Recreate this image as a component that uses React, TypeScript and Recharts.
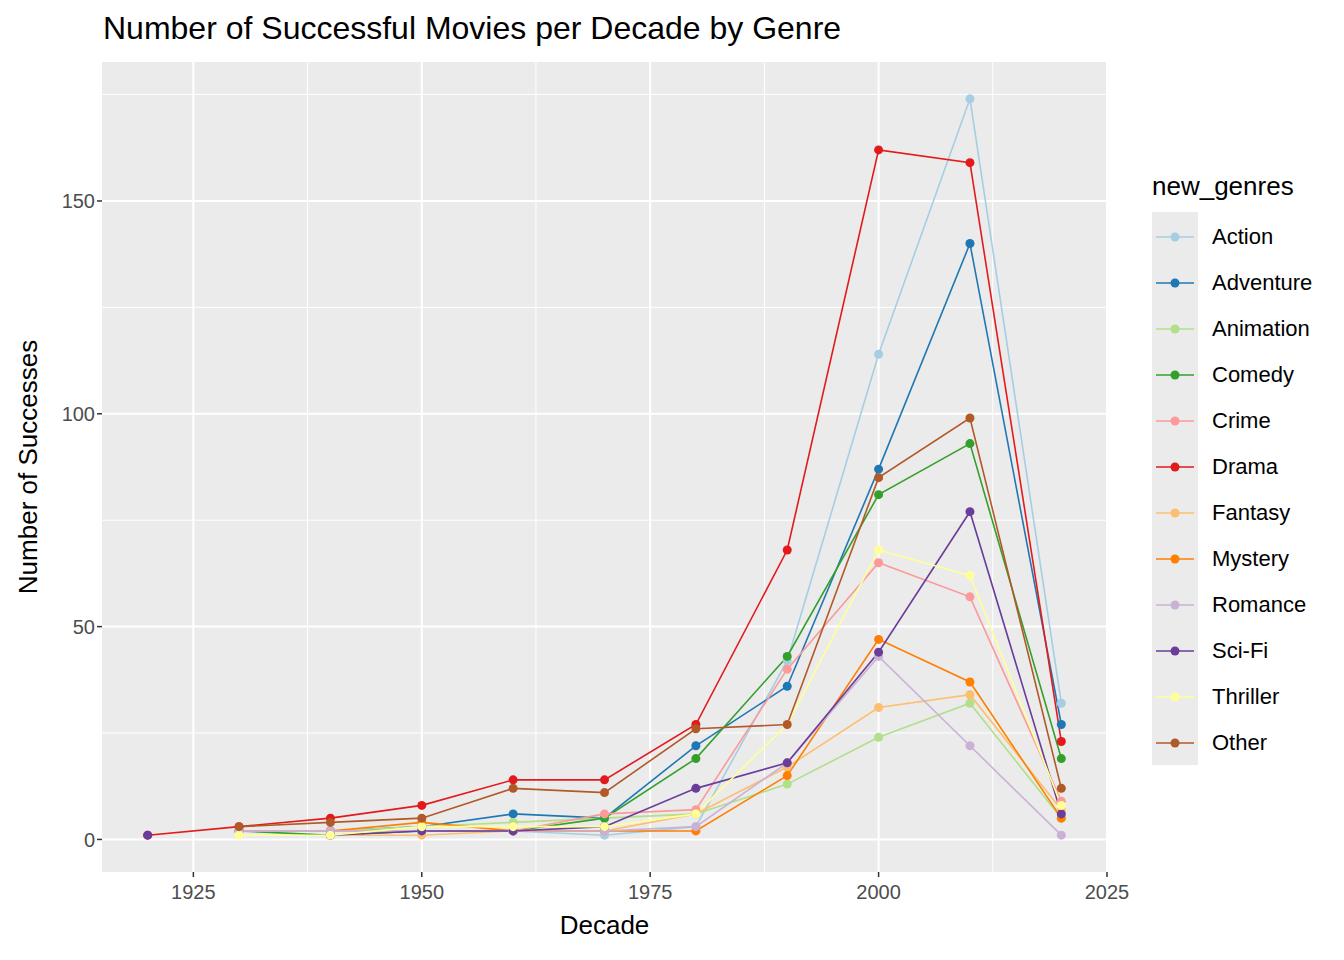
import { LineChart, Line, XAxis, YAxis, ReferenceLine, Label } from "recharts";

const decades = [1920, 1930, 1940, 1950, 1960, 1970, 1980, 1990, 2000, 2010, 2020];
const genres = ["Action", "Adventure", "Animation", "Comedy", "Crime", "Drama", "Fantasy", "Mystery", "Romance", "Sci-Fi", "Thriller", "Other"];
const colors = ["#A6CEE3", "#1F78B4", "#B2DF8A", "#33A02C", "#FB9A99", "#E31A1C", "#FDBF6F", "#FF7F00", "#CAB2D6", "#6A3D9A", "#FFFF99", "#B15928"];
const N = null;
const action = [N, 2, 2, 2, 2, 1, 3, 42, 114, 174, 32];
const adventure = [N, 2, 2, 3, 6, 5, 22, 36, 87, 140, 27];
const animation = [N, 2, 2, 3, 4, 5, 6, 13, 24, 32, 5];
const comedy = [N, 2, 1, 2, 2, 5, 19, 43, 81, 93, 19];
const crime = [N, 2, 2, 2, 2, 6, 7, 40, 65, 57, 9];
const drama = [1, 3, 5, 8, 14, 14, 27, 68, 162, 159, 23];
const fantasy = [N, N, 1, 1, 2, 2, 6, 17, 31, 34, 7];
const mystery = [N, N, 2, 4, 2, 2, 2, 15, 47, 37, 5];
const romance = [N, 2, 2, 2, 2, 2, 3, 18, 43, 22, 1];
const scifi = [1, N, 1, 2, 2, 3, 12, 18, 44, 77, 6];
const thriller = [N, 1, 1, 3, 3, 3, 6, 27, 68, 62, 8];
const other = [N, 3, 4, 5, 12, 11, 26, 27, 85, 99, 12];
const series = [action, adventure, animation, comedy, crime, drama, fantasy, mystery, romance, scifi, thriller, other];

const xTicks = [1925, 1950, 1975, 2000, 2025];
const xMinor = [1937.5, 1962.5, 1987.5, 2012.5];
const yTicks = [0, 50, 100, 150];
const yMinor = [25, 75, 125, 175];

const rows = decades.map((d, i) => {
  const r: Record<string, number | null> = { decade: d };
  genres.forEach((g, j) => (r[g] = series[j][i]));
  return r;
});

const font = "'Liberation Sans', Arial, sans-serif";

export default function App() {
  document.body.style.margin = "0";
  return (
    <div style={{ position: "relative", width: 1344, height: 960, background: "#fff", fontFamily: font }}>
      <div style={{ position: "absolute", left: 103, top: 10, fontSize: 32, color: "#000" }}>
        Number of Successful Movies per Decade by Genre
      </div>
      <LineChart width={1344} height={960} data={rows} margin={{ top: 62, right: 237, bottom: 0, left: 42 }}>
        <rect x={102} y={62} width={1005} height={810} fill="#EBEBEB" />
        {xMinor.map((v) => (
          <ReferenceLine key={"xm" + v} x={v} stroke="#fff" strokeWidth={1} />
        ))}
        {yMinor.map((v) => (
          <ReferenceLine key={"ym" + v} y={v} stroke="#fff" strokeWidth={1} />
        ))}
        {xTicks.map((v) => (
          <ReferenceLine key={"x" + v} x={v} stroke="#fff" strokeWidth={2} />
        ))}
        {yTicks.map((v) => (
          <ReferenceLine key={"y" + v} y={v} stroke="#fff" strokeWidth={2} />
        ))}
        <XAxis
          dataKey="decade"
          type="number"
          domain={[1915, 2025]}
          ticks={xTicks}
          allowDataOverflow
          axisLine={false}
          tickLine={{ stroke: "#333", strokeWidth: 1.5 }}
          tickSize={5}
          tick={{ fill: "#4D4D4D", fontSize: 20, fontFamily: font, dy: 6 }}
          height={88}
        >
          <Label value="Decade" position="insideTop" offset={44} style={{ fill: "#000", fontSize: 26, fontFamily: font }} />
        </XAxis>
        <YAxis
          type="number"
          domain={[-7.65, 182.65]}
          ticks={yTicks}
          allowDataOverflow
          axisLine={false}
          tickLine={{ stroke: "#333", strokeWidth: 1.5 }}
          tickSize={5}
          tick={{ fill: "#4D4D4D", fontSize: 20, fontFamily: font }}
          width={60}
        >
          <Label value="Number of Successes" angle={-90} position="insideLeft" offset={-14} style={{ fill: "#000", fontSize: 26, fontFamily: font, textAnchor: "middle" }} />
        </YAxis>
        {genres.map((g, j) => (
          <Line
            key={g}
            dataKey={g}
            stroke={colors[j]}
            strokeWidth={1.6}
            dot={{ r: 4.5, fill: colors[j], stroke: colors[j], strokeWidth: 0 }}
            isAnimationActive={false}
          />
        ))}
      </LineChart>
      <div style={{ position: "absolute", left: 1152, top: 171, fontSize: 26 }}>new_genres</div>
      <div style={{ position: "absolute", left: 1152, top: 212, width: 46, height: 553, background: "#EBEBEB" }} />
      {genres.map((g, j) => (
        <div key={g} style={{ position: "absolute", left: 1152, top: 214 + j * 46, height: 46, display: "flex", alignItems: "center" }}>
          <svg width={46} height={46}>
            <line x1={4} x2={42} y1={23} y2={23} stroke={colors[j]} strokeWidth={1.6} />
            <circle cx={23} cy={23} r={4.5} fill={colors[j]} />
          </svg>
          <span style={{ marginLeft: 14, fontSize: 22 }}>{g}</span>
        </div>
      ))}
    </div>
  );
}
